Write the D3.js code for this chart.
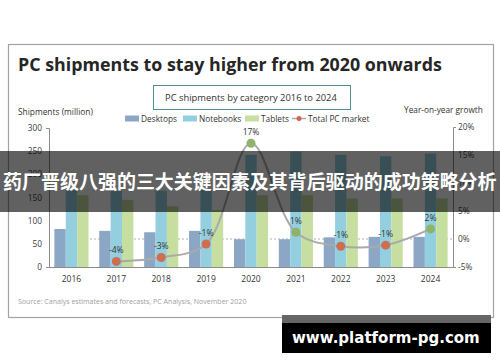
<!DOCTYPE html>
<html>
<head>
<meta charset="utf-8">
<script src="https://cdn.jsdelivr.net/npm/d3@7"></script>
<style>
  body { margin: 0; background: #fff; }
  text { font-family: "Open Sans", sans-serif; }
</style>
</head>
<body>
<div id="canvas"></div>
<script>
const years = ["2016", "2017", "2018", "2019", "2020", "2021", "2022", "2023", "2024"];
const desktops = [82, 78, 75, 78, 60, 60, 64, 65, 65];
const notebooks = [166, 164, 165, 167, 242, 249, 242, 239, 245];
const tablets = [155, 145, 131, 123, 155, 155, 148, 148, 148];
const growth = [null, -4.0, -3.3, -0.9, 17.1, 1.2, -1.3, -1.1, 1.8];
const growthLabels = [null, "-4%", "-3%", "-1%", "17%", "1%", "-1%", "-1%", "2%"];
const leftTicks = [0, 50, 100, 150, 200, 250, 300];
const rightTicks = [-5, 0, 5, 10, 15, 20];
const seriesNames = ["Desktops", "Notebooks", "Tablets"];
const colors = {Desktops: "#8ca6c6", Notebooks: "#93cfdf", Tablets: "#c6dea0"};

const width = 500, height = 362;
const svg = d3.select("#canvas").append("svg")
    .attr("width", width)
    .attr("height", height);

// fit a text to a given width by scaling its font size
function fit(t, w) {
    const l = t.node().getComputedTextLength();
    t.attr("font-size", parseFloat(t.attr("font-size")) * w / l);
    return t;
}

// frame
svg.append("rect")
    .attr("x", 8.5).attr("y", 44.5)
    .attr("width", 485).attr("height", 273)
    .attr("fill", "#fff")
    .attr("stroke", "#a3a3a3")
    .attr("stroke-width", 1.2);

fit(svg.append("text")
    .attr("x", 18).attr("y", 71)
    .attr("font-size", 20)
    .attr("font-weight", "bold")
    .attr("fill", "#262626")
    .text("PC shipments to stay higher from 2020 onwards"), 424);

svg.append("rect")
    .attr("x", 153.5).attr("y", 85.5)
    .attr("width", 197).attr("height", 24)
    .attr("fill", "#fff")
    .attr("stroke", "#4f8f99")
    .attr("stroke-width", 1);

fit(svg.append("text")
    .attr("x", 165).attr("y", 100.5)
    .attr("font-size", 8.5)
    .attr("fill", "#333")
    .text("PC shipments by category 2016 to 2024"), 172);

fit(svg.append("text")
    .attr("x", 18).attr("y", 114.5)
    .attr("font-size", 8)
    .attr("fill", "#333")
    .text("Shipments (million)"), 75);

fit(svg.append("text")
    .attr("x", 404).attr("y", 113)
    .attr("font-size", 8)
    .attr("fill", "#333")
    .text("Year-on-year growth"), 79);

// legend
const legendX = [125, 183, 245];
seriesNames.forEach((s, i) => {
    svg.append("rect")
        .attr("x", legendX[i]).attr("y", 115.5)
        .attr("width", 14).attr("height", 6)
        .attr("fill", colors[s]);
    svg.append("text")
        .attr("x", legendX[i] + 16).attr("y", 121.5)
        .attr("font-size", 8.3)
        .attr("fill", "#333")
        .text(s);
});
svg.append("line")
    .attr("x1", 292).attr("x2", 306)
    .attr("y1", 118.5).attr("y2", 118.5)
    .attr("stroke", "#aaa").attr("stroke-width", 1.5);
svg.append("circle")
    .attr("cx", 299).attr("cy", 118.5).attr("r", 2.5)
    .attr("fill", "#d0674a");
svg.append("text")
    .attr("x", 308).attr("y", 121.5)
    .attr("font-size", 8.3)
    .attr("fill", "#333")
    .text("Total PC market");

// scales
const x = d3.scaleBand()
    .domain(years)
    .range([49, 453])
    .paddingInner(0.24)
    .paddingOuter(0.12);
const xs = d3.scaleBand()
    .domain(seriesNames)
    .range([0, x.bandwidth()]);
const yL = d3.scaleLinear().domain([0, 300]).range([267, 128]);
const yR = d3.scaleLinear().domain([-5, 20]).range([267, 127]);

// axes
const gl = svg.append("g")
    .attr("transform", "translate(49,0)")
    .call(d3.axisLeft(yL).tickValues(leftTicks).tickSizeInner(0).tickSizeOuter(3).tickPadding(7));
const gr = svg.append("g")
    .attr("transform", "translate(453,0)")
    .call(d3.axisRight(yR).tickValues(rightTicks).tickSizeInner(0).tickSizeOuter(3).tickPadding(5)
        .tickFormat(d => d + "%"));
[gl, gr].forEach(g => {
    g.select(".domain").attr("stroke", "#8c8c8c");
    g.selectAll("text").attr("font-size", 8.3).attr("fill", "#404040")
        .style("font-family", "Open Sans, sans-serif");
});

// zero growth reference
svg.append("line")
    .attr("x1", 70).attr("x2", 453)
    .attr("y1", yR(0)).attr("y2", yR(0))
    .attr("stroke", "#b0b0b0")
    .attr("stroke-dasharray", "2,2");

// bars
const rows = years.map((y, i) => ({year: y, Desktops: desktops[i], Notebooks: notebooks[i], Tablets: tablets[i]}));
const groups = svg.selectAll("g.year").data(rows).enter().append("g")
    .attr("class", "year")
    .attr("transform", d => `translate(${x(d.year)},0)`);
groups.selectAll("rect")
    .data(d => seriesNames.map(s => ({key: s, value: d[s]})))
    .enter().append("rect")
    .attr("x", d => xs(d.key))
    .attr("y", d => yL(d.value))
    .attr("width", xs.bandwidth())
    .attr("height", d => yL(0) - yL(d.value))
    .attr("fill", d => colors[d.key]);

const gx = svg.append("g")
    .attr("transform", "translate(0,267)")
    .call(d3.axisBottom(x).tickSize(0).tickPadding(9));
gx.select(".domain").attr("stroke", "#8c8c8c");
gx.selectAll("text").attr("font-size", 8.5).attr("fill", "#333")
    .style("font-family", "Open Sans, sans-serif");

// total market line
const pts = years.map((y, i) => ({year: y, g: growth[i], label: growthLabels[i]})).filter(d => d.g !== null);
svg.append("path")
    .datum(pts)
    .attr("fill", "none")
    .attr("stroke", "#aaaaaa")
    .attr("stroke-width", 2)
    .attr("d", d3.line()
        .x(d => x(d.year) + x.bandwidth() / 2)
        .y(d => yR(d.g))
        .curve(d3.curveCatmullRom));
svg.selectAll("circle.pt").data(pts).enter().append("circle")
    .attr("class", "pt")
    .attr("cx", d => x(d.year) + x.bandwidth() / 2)
    .attr("cy", d => yR(d.g))
    .attr("r", 4.5)
    .attr("fill", d => d.g < 0 ? "#cf6e4e" : "#8fb368");
svg.selectAll("text.lbl").data(pts).enter().append("text")
    .attr("class", "lbl")
    .attr("x", d => x(d.year) + x.bandwidth() / 2)
    .attr("y", d => yR(d.g) - 8)
    .attr("text-anchor", "middle")
    .attr("font-size", 8.5)
    .attr("fill", "#333")
    .text(d => d.label);

fit(svg.append("text")
    .attr("x", 18).attr("y", 304)
    .attr("font-size", 6.5)
    .attr("fill", "#a0a0a0")
    .text("Source: Canalys estimates and forecasts, PC Analysis, November 2020"), 229);

// overlay banner
svg.append("rect")
    .attr("x", 0).attr("y", 151)
    .attr("width", width).attr("height", 61)
    .attr("fill", "rgba(0,0,0,0.62)");
fit(svg.append("text")
    .attr("x", 3).attr("y", 189)
    .attr("font-size", 19)
    .attr("font-weight", "bold")
    .attr("fill", "#fff")
    .style("font-family", "'Noto Sans CJK SC', sans-serif")
    .text("药厂晋级八强的三大关键因素及其背后驱动的成功策略分析"), 494);

// watermark
svg.append("rect")
    .attr("x", 282).attr("y", 315)
    .attr("width", 209).attr("height", 8)
    .attr("fill", "#666");
svg.append("rect")
    .attr("x", 282).attr("y", 323)
    .attr("width", 209).attr("height", 30)
    .attr("fill", "#000");
fit(svg.append("text")
    .attr("x", 292).attr("y", 343)
    .attr("font-size", 17)
    .attr("font-weight", "bold")
    .attr("fill", "#fff")
    .style("font-family", "'DejaVu Sans', sans-serif")
    .text("www.platform-pg.com"), 188);
</script>
</body>
</html>
